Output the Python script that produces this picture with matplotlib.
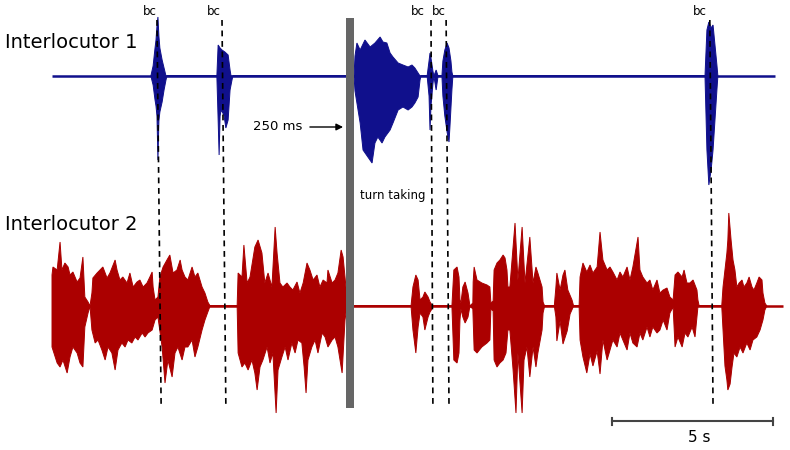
import matplotlib
matplotlib.use("Agg")
import matplotlib.pyplot as plt
import numpy as np

# ---------------- data (time in s, amplitude in arbitrary units) ----------------
# Interlocutor 1 (blue) envelope
ch1_top_t = [3.07, 3.14, 3.20, 3.23, 3.26, 3.29, 3.32, 3.35, 3.42, 3.48, 3.54,
             5.12, 5.16, 5.22, 5.28, 5.37, 5.47, 5.53, 5.56,
             9.38, 9.41, 9.47, 9.57, 9.72, 9.88, 10.03, 10.19, 10.28, 10.40, 10.50,
             10.59, 10.75, 10.90, 11.06, 11.18, 11.27, 11.37, 11.43,
             11.65, 11.71, 11.74, 11.77, 11.83, 11.86, 11.93, 11.99,
             12.11, 12.14, 12.20, 12.27, 12.33, 12.39, 12.42, 12.45,
             20.28, 20.34, 20.40, 20.47, 20.53, 20.59, 20.65, 20.68]
ch1_top_a = [0, 10, 28, 36, 50, 59, 40, 28, 16, 8, 0,
             0, 31, 28, 26, 24, 21, 6, 0,
             0, 20, 33, 26, 36, 29, 33, 39, 34, 33, 23,
             19, 13, 11, 9, 11, 8, 3, 0,
             0, 15, 23, 18, 5, 0, 6, 0,
             0, 15, 26, 33, 28, 15, 4, 0,
             0, 46, 54, 48, 51, 31, 11, 0]
ch1_bot_t = [3.07, 3.14, 3.20, 3.23, 3.26, 3.29, 3.32, 3.35, 3.42, 3.48, 3.54, 3.57,
             5.12, 5.16, 5.19, 5.22, 5.25, 5.34, 5.40, 5.47, 5.53, 5.59, 5.62,
             9.38, 9.41, 9.47, 9.57, 9.66, 9.81, 9.94, 10.03, 10.12, 10.25, 10.34,
             10.50, 10.59, 10.75, 10.90, 11.06, 11.18, 11.27, 11.37, 11.43, 11.46,
             11.65, 11.71, 11.74, 11.77, 11.83, 11.86, 11.93, 11.99,
             12.11, 12.14, 12.20, 12.27, 12.33, 12.36, 12.42, 12.45,
             20.28, 20.34, 20.40, 20.47, 20.53, 20.59, 20.65, 20.68]
ch1_bot_a = [0, 9, 24, 30, 40, 84, 45, 36, 26, 14, 4, 0,
             0, 44, 79, 40, 34, 39, 52, 44, 14, 4, 0,
             0, 15, 27, 47, 74, 81, 87, 67, 61, 67, 61,
             54, 47, 34, 31, 34, 31, 27, 21, 4, 0,
             0, 20, 54, 30, 8, 0, 14, 0,
             0, 20, 40, 56, 66, 50, 14, 0,
             0, 74, 109, 94, 74, 44, 14, 0]
ch1_span = [0.0, 22.45]

# Interlocutor 2 (red) envelope
ch2_top_t = [0.00, 0.03, 0.16, 0.25, 0.31, 0.40, 0.50, 0.56, 0.65, 0.78, 0.87, 0.96, 1.02, 1.12, 1.18,
             1.24, 1.27, 1.40, 1.49, 1.58, 1.71, 1.80, 1.96, 2.02, 2.11, 2.20, 2.33, 2.42, 2.52,
             2.64, 2.73, 2.83, 2.95, 3.04, 3.11, 3.14, 3.20,
             3.29, 3.35, 3.45, 3.57, 3.66, 3.76, 3.88, 3.98, 4.04, 4.13, 4.22, 4.35, 4.44, 4.53,
             4.66, 4.75, 4.84, 4.91,
             5.75, 5.78, 5.90, 5.96, 6.06, 6.15, 6.30, 6.40, 6.52, 6.61, 6.71, 6.83, 6.93, 6.99,
             7.08, 7.17, 7.30, 7.39, 7.48, 7.61, 7.70, 7.80, 7.92, 8.01, 8.11, 8.23, 8.32, 8.42,
             8.54, 8.57, 8.70, 8.79, 8.88, 8.98, 9.04, 9.13, 9.16,
             11.15, 11.21, 11.30, 11.37, 11.43, 11.52, 11.58, 11.68, 11.74, 11.80, 11.83,
             12.42, 12.48, 12.58, 12.64, 12.67, 12.70, 12.76, 12.83, 12.92, 12.98,
             13.07, 13.08, 13.11, 13.20, 13.35, 13.51, 13.60, 13.63,
             13.70, 13.73, 13.82, 13.91, 14.01, 14.07, 14.13, 14.16,
             14.22, 14.38, 14.47, 14.60, 14.69, 14.84, 14.94, 15.03, 15.09, 15.22, 15.25, 15.30,
             15.60, 15.65, 15.68, 15.78, 15.87, 15.93, 16.02, 16.15, 16.20,
             16.37, 16.40, 16.49, 16.61, 16.71, 16.80, 16.93, 17.02, 17.11, 17.24, 17.33, 17.42,
             17.55, 17.64, 17.73, 17.86, 17.95, 18.04, 18.20, 18.26, 18.35, 18.48, 18.57, 18.66,
             18.79, 18.88, 18.98, 19.10, 19.19, 19.29, 19.35, 19.44, 19.57, 19.63, 19.72, 19.81,
             19.91, 20.03, 20.06, 20.10,
             20.80, 20.84, 20.90, 20.96, 20.99, 21.02, 21.09, 21.15, 21.21, 21.27, 21.34, 21.43,
             21.49, 21.58, 21.65, 21.74, 21.80, 21.89, 21.96, 22.05, 22.08, 22.14, 22.20]
ch2_top_a = [31, 39, 36, 64, 36, 43, 39, 31, 34, 24, 28, 49, 9, 4, 0,
             13, 28, 33, 36, 39, 28, 33, 46, 36, 26, 29, 23, 33, 19,
             24, 26, 19, 23, 29, 34, 19, 6,
             9, 29, 39, 46, 51, 33, 36, 46, 36, 29, 26, 39, 29, 33,
             19, 13, 4, 0,
             0, 33, 29, 61, 23, 29, 59, 66, 53, 23, 33, 19, 79, 53,
             23, 19, 23, 19, 16, 24, 13, 23, 43, 36, 26, 31, 19, 26,
             23, 36, 23, 26, 33, 56, 49, 19, 0,
             0, 19, 31, 26, 6, 9, 14, 9, 4, 1, 0,
             0, 36, 39, 29, 6, 3, 19, 24, 13, 0,
             3, 24, 39, 26, 23, 21, 19, 3,
             5, 36, 43, 46, 51, 48, 36, 19,
             19, 83, 26, 79, 23, 69, 23, 39, 33, 19, 4, 0,
             0, 19, 33, 16, 31, 36, 16, 6, 0,
             0, 29, 43, 34, 41, 33, 39, 74, 46, 36, 39, 34,
             26, 34, 29, 39, 26, 39, 69, 36, 29, 23, 26, 16,
             26, 13, 16, 18, 9, 6, 31, 34, 29, 36, 23, 23,
             26, 16, 6, 0,
             0, 19, 36, 53, 66, 93, 66, 46, 36, 19, 23, 26,
             19, 23, 29, 19, 16, 23, 29, 26, 13, 3, 0]
ch2_bot_t = [0.00, 0.03, 0.16, 0.25, 0.34, 0.47, 0.56, 0.65, 0.78, 0.87, 0.96, 1.02, 1.12, 1.18,
             1.24, 1.34, 1.43, 1.55, 1.65, 1.74, 1.86, 1.96, 2.05, 2.17, 2.27, 2.36, 2.48, 2.58,
             2.67, 2.80, 2.89, 2.98, 3.11, 3.20,
             3.29, 3.42, 3.51, 3.60, 3.73, 3.82, 3.91, 4.04, 4.13, 4.22, 4.35, 4.44, 4.53, 4.66,
             4.75, 4.84, 4.91,
             5.75, 5.78, 5.90, 5.99, 6.09, 6.21, 6.30, 6.37, 6.46, 6.55, 6.68, 6.77, 6.86, 6.96,
             7.02, 7.14, 7.24, 7.33, 7.45, 7.55, 7.64, 7.76, 7.83, 7.89, 7.95, 8.07, 8.17, 8.26,
             8.39, 8.48, 8.57, 8.70, 8.79, 8.88, 9.01, 9.10, 9.16,
             11.15, 11.21, 11.30, 11.37, 11.43, 11.52, 11.58, 11.68, 11.74, 11.80, 11.83,
             12.42, 12.48, 12.58, 12.64, 12.67, 12.70, 12.76, 12.83, 12.92, 12.98,
             13.07, 13.11, 13.20, 13.35, 13.51, 13.60, 13.63,
             13.70, 13.73, 13.82, 13.91, 14.01, 14.10, 14.16,
             14.22, 14.32, 14.41, 14.47, 14.60, 14.66, 14.75, 14.84, 14.94, 15.03, 15.09, 15.22,
             15.25, 15.30,
             15.60, 15.65, 15.68, 15.78, 15.87, 16.00, 16.09, 16.20,
             16.37, 16.40, 16.49, 16.61, 16.71, 16.80, 16.93, 17.02, 17.11, 17.24, 17.33, 17.42,
             17.55, 17.64, 17.73, 17.86, 17.95, 18.04, 18.17, 18.26, 18.35, 18.48, 18.57, 18.66,
             18.79, 18.88, 18.98, 19.10, 19.19, 19.29, 19.35, 19.44, 19.57, 19.66, 19.75, 19.88,
             19.97, 20.06, 20.10,
             20.80, 20.84, 20.90, 20.96, 20.99, 21.06, 21.12, 21.18, 21.27, 21.37, 21.46, 21.58,
             21.68, 21.77, 21.89, 21.99, 22.08, 22.14, 22.20]
ch2_bot_a = [41, 44, 57, 61, 54, 67, 51, 41, 47, 57, 61, 21, 7, 0,
             24, 37, 34, 44, 54, 41, 47, 64, 44, 37, 41, 34, 37, 31,
             34, 27, 31, 27, 24, 14,
             11, 41, 77, 54, 71, 47, 41, 54, 41, 41, 34, 51, 41, 24,
             14, 6, 0,
             0, 47, 61, 57, 64, 54, 67, 84, 61, 54, 41, 57, 47, 107,
             64, 51, 41, 54, 37, 47, 34, 37, 61, 87, 54, 41, 34, 47,
             27, 31, 41, 34, 31, 41, 67, 14, 0,
             0, 24, 47, 21, 7, 11, 24, 11, 6, 3, 0,
             0, 54, 57, 47, 14, 3, 11, 17, 11, 0,
             3, 44, 47, 41, 37, 34, 3,
             5, 54, 61, 57, 54, 47, 24,
             24, 64, 107, 47, 107, 54, 41, 71, 41, 61, 47, 24,
             7, 0,
             0, 11, 35, 15, 38, 25, 8, 0,
             0, 34, 51, 67, 48, 60, 45, 68, 34, 54, 44, 34,
             41, 27, 34, 44, 27, 37, 41, 27, 34, 21, 31, 21,
             27, 24, 14, 24, 7, 1, 41, 31, 41, 27, 31, 21,
             31, 1, 0,
             0, 24, 60, 74, 84, 78, 61, 47, 51, 41, 47, 37,
             44, 34, 31, 24, 14, 4, 0]
ch2_span = [0.0, 22.70]

# backchannel (bc) markers: dashed line top / bottom times
bc_top_t = [3.26, 5.28, 11.77, 12.24, 20.43]
bc_bot_t = [3.39, 5.40, 11.83, 12.33, 20.53]
bc_label_t = [3.04, 5.03, 11.37, 12.02, 20.12]
bc_label = "bc"

turn_t = [9.13, 9.38]          # turn-taking gap bar (start, end)
scale_t = [17.39, 22.39]       # 5 s scale bar
scale_label = "5 s"
ch_labels = ["Interlocutor 1", "Interlocutor 2"]

# ---------------- drawing ----------------
AMP = 0.01                      # amplitude unit -> axis units
OFF = [0.0, -2.30]              # channel baselines
BLUE = "#10108c"
RED = "#ab0000"

fig = plt.figure(figsize=(7.9, 4.5), dpi=100)
ax = fig.add_axes([0, 0, 1, 1])
ax.set_xlim(-1.615, 22.92)
ax.set_ylim(-3.74, 0.76)
ax.axis("off")


def draw_channel(tt, ta, bt, ba, span, base, color):
    tt = np.asarray(tt); ta = np.asarray(ta) * AMP
    bt = np.asarray(bt); ba = np.asarray(ba) * AMP
    ax.plot(span, [base, base], color=color, lw=1.8, solid_capstyle="butt", zorder=2)
    xs = np.concatenate([tt, bt[::-1]])
    ys = np.concatenate([base + ta, base - ba[::-1]])
    ax.fill(xs, ys, color=color, lw=0.7, zorder=3)


draw_channel(ch1_top_t, ch1_top_a, ch1_bot_t, ch1_bot_a, ch1_span, OFF[0], BLUE)
draw_channel(ch2_top_t, ch2_top_a, ch2_bot_t, ch2_bot_a, ch2_span, OFF[1], RED)

# bc dashed lines + labels
y_top, y_bot = 0.56, -3.32
for t0, t1, tl in zip(bc_top_t, bc_bot_t, bc_label_t):
    ax.plot([t0, t1], [y_top, y_bot], color="black", lw=1.2,
            linestyle=(0, (3.5, 2.8)), zorder=5)
    ax.text(tl, 0.645, bc_label, ha="center", va="center", fontsize=8.5, color="black")

# turn-taking bar
ax.fill_between(turn_t, [-3.32, -3.32], [0.58, 0.58], color="#666666", lw=0, zorder=6)
ax.annotate("", xy=(9.04, -0.51), xytext=(8.01, -0.51),
            arrowprops=dict(arrowstyle="-|>", color="black", lw=1.0,
                            mutation_scale=10, shrinkA=0, shrinkB=0))
ax.text(7.00, -0.51, "250 ms", ha="center", va="center", fontsize=9.5)
ax.text(9.57, -1.20, "turn taking", ha="left", va="center", fontsize=8.5)

# channel labels
ax.text(-1.46, 0.33, ch_labels[0], ha="left", va="center", fontsize=14)
ax.text(-1.46, -1.49, ch_labels[1], ha="left", va="center", fontsize=14)

# scale bar
ys = -3.45
ax.plot(scale_t, [ys, ys], color="#444444", lw=1.5, zorder=4)
for t in scale_t:
    ax.plot([t, t], [ys - 0.035, ys + 0.035], color="#444444", lw=1.5)
ax.text(sum(scale_t) / 2 + 0.2, -3.62, scale_label, ha="center", va="center", fontsize=11)

fig.savefig("out.png", dpi=100)
